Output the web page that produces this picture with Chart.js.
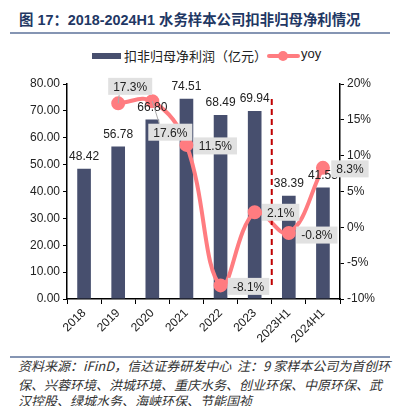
<!DOCTYPE html>
<html>
<head>
<meta charset="utf-8">
<script src="https://cdn.jsdelivr.net/npm/chart.js@4.4.1/dist/chart.umd.min.js"></script>
<style>
  body { margin: 0; width: 396px; height: 406px; background: #fff; position: relative; overflow: hidden; font-family: "Liberation Sans", Arial, "Noto Sans CJK SC", sans-serif; }
  .title { position: absolute; left: 19px; top: 8px; line-height: 22px; font: bold 14.4px "Liberation Sans", "Noto Sans CJK SC", sans-serif; color: #1f3864; white-space: nowrap; }
  .rule { position: absolute; left: 10px; width: 380px; height: 2px; background: #8595b3; }
  .legend { position: absolute; top: 46px; left: 0; width: 396px; height: 18px; font: 13px "Noto Sans CJK SC", sans-serif; color: #222; }
  .legend span { position: absolute; top: 0; white-space: nowrap; }
  .sw-bar { position: absolute; left: 92px; top: 7px; width: 29px; height: 6px; background: #474f6e; }
  .sw-line { position: absolute; left: 267px; top: 8px; width: 33px; height: 4px; background: #ff7c80; border-radius: 2px; }
  .sw-dot { position: absolute; left: 278px; top: 5px; width: 10px; height: 10px; border-radius: 50%; background: #ff7c80; }
  .foot { position: absolute; left: 18px; line-height: 17px; font: italic 13px "Noto Sans CJK SC", sans-serif; color: #333; white-space: nowrap; }
  #wrap { position: absolute; left: 0; top: 40px; width: 396px; height: 305px; }
</style>
</head>
<body>
<div class="title">图 17：2018-2024H1 水务样本公司扣非归母净利情况</div>
<div class="rule" style="top:32px"></div>
<div class="legend">
  <div class="sw-bar"></div><span style="left:124px">扣非归母净利润（亿元）</span>
  <div class="sw-line"></div><div class="sw-dot"></div><span style="left:301px;font-family:'Liberation Sans',Arial,sans-serif">yoy</span>
</div>
<div id="wrap"><canvas id="chart" width="396" height="305"></canvas></div>
<div class="rule" style="top:356px;height:1.5px"></div>
<div class="foot" style="top:357px;line-height:18px">资料来源：iFinD，信达证券研发中心&nbsp; 注：9 家样本公司为首创环</div>
<div class="foot" style="top:375px">保、兴蓉环境、洪城环境、重庆水务、创业环保、中原环保、武</div>
<div class="foot" style="top:391px">汉控股、绿城水务、海峡环保、节能国祯</div>

<script>
const categories = ['2018', '2019', '2020', '2021', '2022', '2023', '2023H1', '2024H1'];
const profit = [48.42, 56.78, 66.80, 74.51, 68.49, 69.94, 38.39, 41.53];
const yoy = [null, 17.3, 17.6, 11.5, -8.1, 2.1, -0.8, 8.3];
const leftTicks = [0, 10, 20, 30, 40, 50, 60, 70, 80];
const rightTicks = [-10, -5, 0, 5, 10, 15, 20];

// where each yoy label box sits relative to its point (px)
const yoyLabelShift = [null, [12, -17], [18, 31], [29, 1], [28, 1], [26, 0], [28, 2], [27, 1]];

const BAR = '#474f6e', LINE = '#ff7c80';

const labelPlugin = {
  id: 'labels',
  afterDatasetsDraw(chart) {
    const ctx = chart.ctx;
    const bars = chart.getDatasetMeta(1).data;
    const pts = chart.getDatasetMeta(0).data;
    ctx.save();
    // dashed separator between annual and half-year data
    const xs = chart.scales.x;
    const sx = (xs.getPixelForValue(5) + xs.getPixelForValue(6)) / 2;
    ctx.strokeStyle = '#c00000';
    ctx.lineWidth = 2;
    ctx.setLineDash([6, 4]);
    ctx.beginPath();
    ctx.moveTo(sx, chart.chartArea.top + 15);
    ctx.lineTo(sx, chart.chartArea.bottom - 12);
    ctx.stroke();
    ctx.setLineDash([]);

    ctx.font = '12px "Liberation Sans", Arial, sans-serif';
    ctx.fillStyle = '#222';
    ctx.textAlign = 'center';
    ctx.textBaseline = 'bottom';
    bars.forEach((b, i) => ctx.fillText(profit[i].toFixed(2), b.x, b.y - 6));

    ctx.textBaseline = 'middle';
    pts.forEach((p, i) => {
      if (yoy[i] === null) return;
      const [dx, dy] = yoyLabelShift[i];
      const txt = yoy[i].toFixed(1) + '%';
      const w = ctx.measureText(txt).width + 10, h = 17;
      const cx = p.x + dx, cy = p.y + dy;
      if (Math.abs(dy) > 10) {
        ctx.strokeStyle = '#aaa';
        ctx.lineWidth = 1;
        ctx.beginPath();
        ctx.moveTo(p.x, p.y);
        ctx.lineTo(cx - w / 4, cy + (dy > 0 ? -h / 2 : h / 2));
        ctx.stroke();
      }
      ctx.fillStyle = '#e1e1e1';
      ctx.fillRect(cx - w / 2, cy - h / 2, w, h);
      ctx.fillStyle = '#222';
      ctx.fillText(txt, cx, cy + 1);
    });
    ctx.restore();
  }
};

new Chart(document.getElementById('chart'), {
  data: {
    labels: categories,
    datasets: [
      { type: 'line', label: 'yoy', data: yoy, yAxisID: 'y1', borderColor: LINE, backgroundColor: LINE,
        borderWidth: 4, tension: 0.4, pointRadius: 5, pointHoverRadius: 5, order: 0 },
      { type: 'bar', label: '扣非归母净利润（亿元）', data: profit, yAxisID: 'y', backgroundColor: BAR,
        barPercentage: 0.4, categoryPercentage: 1, order: 1 }
    ]
  },
  options: {
    responsive: false,
    animation: false,
    layout: { padding: { top: 44, left: 0, right: 0, bottom: 0 } },
    plugins: { legend: { display: false }, tooltip: { enabled: false } },
    scales: {
      x: {
        offset: true,
        grid: { display: true, drawOnChartArea: false, offset: true, color: '#000', tickLength: 5 },
        border: { color: '#000', width: 1.5 },
        ticks: { color: '#222', font: { size: 12, family: '"Liberation Sans", Arial' }, minRotation: 45, maxRotation: 45, padding: 2 },
        afterFit(s) { s.height = 46; }
      },
      y: {
        position: 'left', min: 0, max: 80,
        afterBuildTicks(s) { s.ticks = leftTicks.map(v => ({ value: v })); },
        grid: { display: true, drawOnChartArea: false, color: '#000', tickLength: 4 },
        border: { color: '#000', width: 1.5 },
        ticks: { color: '#222', font: { size: 12, family: '"Liberation Sans", Arial' }, padding: 3, callback: v => v.toFixed(2) },
        afterFit(s) { s.width = 67; }
      },
      y1: {
        position: 'right', min: -10, max: 20,
        afterBuildTicks(s) { s.ticks = rightTicks.map(v => ({ value: v })); },
        grid: { display: true, drawOnChartArea: false, color: '#000', tickLength: 4 },
        border: { color: '#000', width: 1.5 },
        ticks: { color: '#222', font: { size: 12, family: '"Liberation Sans", Arial' }, padding: 3, callback: v => v + '%' },
        afterFit(s) { s.width = 56; }
      }
    }
  },
  plugins: [labelPlugin]
});
</script>
</body>
</html>
